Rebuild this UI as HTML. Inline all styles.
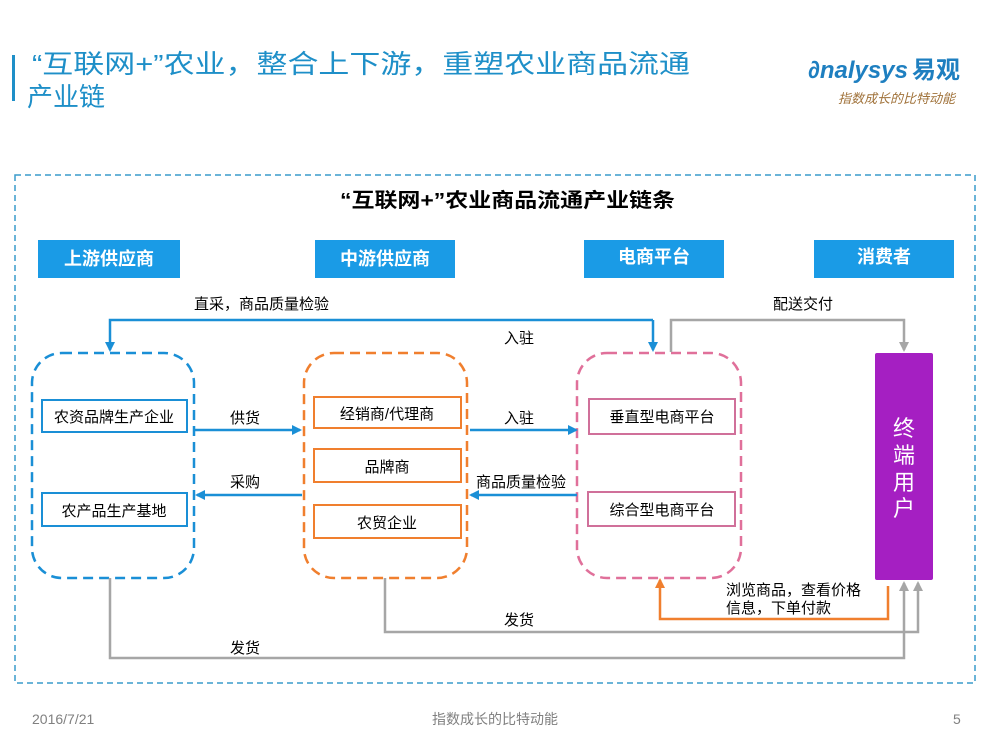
<!DOCTYPE html>
<html><head><meta charset="utf-8"><style>
html,body{margin:0;padding:0;background:#fff;}
body{width:990px;height:743px;overflow:hidden;font-family:"Liberation Sans","Noto Sans CJK SC",sans-serif;}
svg text{font-family:"Liberation Sans","Noto Sans CJK SC",sans-serif;}
</style></head><body>
<svg width="990" height="743" viewBox="0 0 990 743" xmlns="http://www.w3.org/2000/svg">
<defs>
<marker id="ab" markerWidth="10" markerHeight="10" refX="8" refY="5" orient="auto" markerUnits="userSpaceOnUse"><path d="M0,0 L10,5 L0,10 z" fill="#1a8fd6"/></marker>
<marker id="ag" markerWidth="10" markerHeight="10" refX="8" refY="5" orient="auto" markerUnits="userSpaceOnUse"><path d="M0,0 L10,5 L0,10 z" fill="#a6a6a6"/></marker>
<marker id="ao" markerWidth="10" markerHeight="10" refX="8" refY="5" orient="auto" markerUnits="userSpaceOnUse"><path d="M0,0 L10,5 L0,10 z" fill="#f07f2e"/></marker>
</defs>
<!-- header -->
<rect x="12" y="55" width="3" height="46" fill="#1e8fc8"/>
<text x="32" y="73" font-size="26" fill="#1e8fc8" textLength="658" lengthAdjust="spacingAndGlyphs">“互联网+”农业，整合上下游，重塑农业商品流通</text>
<text x="27" y="106" font-size="26" fill="#1e8fc8">产业链</text>
<text x="808" y="78" font-size="24" fill="#1e7fc0" font-style="italic" font-weight="bold">∂nalysys</text>
<text x="912" y="78" font-size="24" fill="#1e7fc0" font-weight="bold">易观</text>
<text x="838" y="103" font-size="13" fill="#a0723a" font-style="italic">指数成长的比特动能</text>
<!-- outer -->
<rect x="15" y="175" width="960" height="508" fill="none" stroke="#3a9ccc" stroke-width="1.5" stroke-dasharray="6,4"/>
<text x="340" y="207" font-size="20" font-weight="bold" fill="#000" textLength="335" lengthAdjust="spacingAndGlyphs">“互联网+”农业商品流通产业链条</text>
<g font-size="18" font-weight="bold" fill="#fff" text-anchor="middle">
<rect x="38" y="240" width="142" height="38" fill="#1a9be6"/><text x="109" y="265">上游供应商</text>
<rect x="315" y="240" width="140" height="38" fill="#1a9be6"/><text x="385" y="265">中游供应商</text>
<rect x="584" y="240" width="140" height="38" fill="#1a9be6"/><text x="654" y="263">电商平台</text>
<rect x="814" y="240" width="140" height="38" fill="#1a9be6"/><text x="884" y="263">消费者</text>
</g>
<!-- groups -->
<rect x="32" y="353" width="162" height="225" rx="30" fill="none" stroke="#1a8fd6" stroke-width="2.5" stroke-dasharray="10,6"/>
<rect x="304" y="353" width="163" height="225" rx="30" fill="none" stroke="#f07f2e" stroke-width="2.5" stroke-dasharray="10,6"/>
<rect x="577" y="353" width="164" height="225" rx="30" fill="none" stroke="#e0709a" stroke-width="2.5" stroke-dasharray="10,6"/>
<g font-size="15" fill="#000" text-anchor="middle">
<rect x="42" y="400" width="145" height="32" fill="#fff" stroke="#1a8fd6" stroke-width="2"/><text x="114" y="422">农资品牌生产企业</text>
<rect x="42" y="493" width="145" height="33" fill="#fff" stroke="#1a8fd6" stroke-width="2"/><text x="114" y="516">农产品生产基地</text>
<rect x="314" y="397" width="147" height="31" fill="#fff" stroke="#f07f2e" stroke-width="2"/><text x="387" y="419">经销商/代理商</text>
<rect x="314" y="449" width="147" height="33" fill="#fff" stroke="#f07f2e" stroke-width="2"/><text x="387" y="472">品牌商</text>
<rect x="314" y="505" width="147" height="33" fill="#fff" stroke="#f07f2e" stroke-width="2"/><text x="387" y="528">农贸企业</text>
<rect x="589" y="399" width="146" height="35" fill="#fff" stroke="#d0709a" stroke-width="2"/><text x="662" y="422">垂直型电商平台</text>
<rect x="588" y="492" width="147" height="34" fill="#fff" stroke="#d0709a" stroke-width="2"/><text x="662" y="515">综合型电商平台</text>
</g>
<rect x="875" y="353" width="58" height="227" rx="2" fill="#a51fc2"/>
<g font-size="22" fill="#fff" text-anchor="middle"><text x="904" y="436">终</text><text x="904" y="463">端</text><text x="904" y="490">用</text><text x="904" y="516">户</text></g>
<!-- connectors -->
<g fill="none" stroke-width="2.5">
<path d="M653 320 H110 V350" stroke="#1a8fd6" marker-end="url(#ab)"/>
<path d="M653 320 V350" stroke="#1a8fd6" marker-end="url(#ab)"/>
<path d="M671 352 V320 H904 V350" stroke="#a6a6a6" marker-end="url(#ag)"/>
<path d="M194 430 H300" stroke="#1a8fd6" marker-end="url(#ab)"/>
<path d="M302 495 H197" stroke="#1a8fd6" marker-end="url(#ab)"/>
<path d="M470 430 H576" stroke="#1a8fd6" marker-end="url(#ab)"/>
<path d="M577 495 H471" stroke="#1a8fd6" marker-end="url(#ab)"/>
<path d="M888 586 V619 H660 V580" stroke="#f07f2e" marker-end="url(#ao)"/>
<path d="M385 578 V632 H918 V583" stroke="#a6a6a6" marker-end="url(#ag)"/>
<path d="M110 578 V658 H904 V583" stroke="#a6a6a6" marker-end="url(#ag)"/>
</g>
<g font-size="15" fill="#000">
<text x="194" y="309">直采，商品质量检验</text>
<text x="504" y="343">入驻</text>
<text x="773" y="309">配送交付</text>
<text x="230" y="423">供货</text>
<text x="230" y="487">采购</text>
<text x="504" y="423">入驻</text>
<text x="476" y="487">商品质量检验</text>
<text x="726" y="595">浏览商品，查看价格</text>
<text x="726" y="613">信息，下单付款</text>
<text x="504" y="625">发货</text>
<text x="230" y="653">发货</text>
</g>
<!-- footer -->
<g font-size="14" fill="#808080">
<text x="32" y="724">2016/7/21</text>
<text x="495" y="724" text-anchor="middle">指数成长的比特动能</text>
<text x="953" y="724">5</text>
</g>
</svg>
</body></html>
